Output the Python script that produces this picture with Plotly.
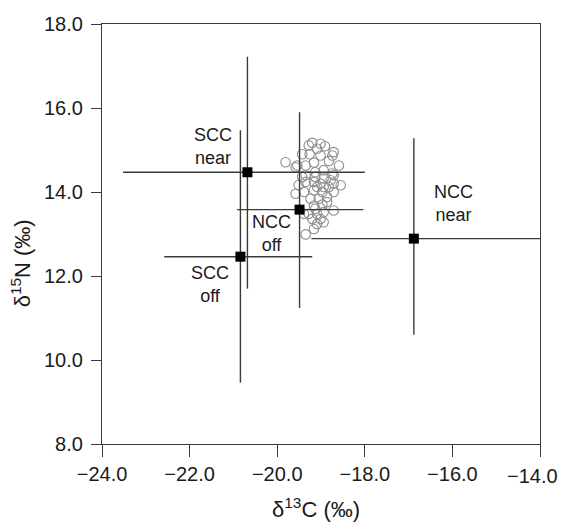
import plotly.graph_objects as go

# Individual samples (open circles)
ind_x = [-19.20, -18.91, -19.09, -18.71, -19.26, -19.43, -19.01, -18.74, -19.81, -19.54,
         -19.35, -19.16, -18.82, -18.59, -18.94, -19.13, -19.35, -18.74, -18.94, -19.16,
         -18.78, -19.01, -18.55, -18.82, -19.35, -19.58, -19.39, -19.16, -18.97, -18.71,
         -19.24, -19.05, -18.86, -19.16, -18.97, -18.86, -19.28, -19.09, -18.94, -19.20,
         -19.01, -19.16, -19.35, -19.58, -19.43, -19.51, -19.13, -18.71, -19.28, -19.01,
         -19.09, -18.94, -18.71, -19.13, -19.09, -18.94, -18.71, -19.39]
ind_y = [15.17, 15.09, 15.03, 14.95, 14.90, 14.90, 14.87, 14.87, 14.71, 14.63,
         14.63, 14.70, 14.74, 14.63, 14.52, 14.47, 14.40, 14.44, 14.32, 14.24,
         14.28, 14.20, 14.16, 14.12, 14.24, 13.96, 14.00, 14.04, 14.00, 14.00,
         13.84, 13.84, 13.88, 13.68, 13.70, 13.76, 13.48, 13.48, 13.52, 13.36,
         13.36, 13.12, 12.99, 14.59, 14.36, 14.16, 14.36, 14.40, 15.11, 15.15,
         14.12, 14.12, 14.20, 13.60, 13.24, 13.28, 13.56, 13.48]

# Group means with asymmetric error ranges
groups = ["SCC near", "NCC off", "SCC off", "NCC near"]
mean_x = [-20.68, -19.49, -20.84, -16.88]
mean_y = [14.47, 13.58, 12.46, 12.89]
err_x_minus = [2.84, 1.43, 1.74, 2.34]
err_x_plus = [2.68, 1.46, 1.64, 2.93]
err_y_plus = [2.75, 2.32, 3.01, 2.39]
err_y_minus = [2.77, 2.34, 3.00, 2.29]

# Group labels
labels = ["SCC<br>near", "NCC<br>off", "SCC<br>off", "NCC<br>near"]
label_x = [-21.46, -20.13, -21.53, -15.97]
label_y = [15.09, 13.01, 11.79, 13.73]

x_ticks = [-24, -22, -20, -18, -16, -14]
y_ticks = [8, 10, 12, 14, 16, 18]
x_ticktext = [f"\u2212{abs(v):.1f}" for v in x_ticks]
y_ticktext = [f"{v:.1f}" for v in y_ticks]

LINE = "#3a3a3a"
TXT = "#1a1a1a"
FONT = "Liberation Sans, Arial, Helvetica, sans-serif"

fig = go.Figure()
fig.add_trace(go.Scatter(
    x=ind_x, y=ind_y, mode="markers",
    marker=dict(symbol="circle-open", size=9.5, color="#8f8f8f", line=dict(width=1.1)),
    showlegend=False, hoverinfo="skip"))
fig.add_trace(go.Scatter(
    x=mean_x, y=mean_y, mode="markers",
    marker=dict(symbol="square", size=10, color="black"),
    error_x=dict(type="data", symmetric=False, array=err_x_plus, arrayminus=err_x_minus,
                 width=0, thickness=1.4, color=LINE),
    error_y=dict(type="data", symmetric=False, array=err_y_plus, arrayminus=err_y_minus,
                 width=0, thickness=1.4, color=LINE),
    text=groups, showlegend=False))

for lx, ly, t in zip(label_x, label_y, labels):
    fig.add_annotation(x=lx, y=ly, text=t, showarrow=False,
                       xanchor="center", yanchor="middle",
                       font=dict(family=FONT, size=18, color=TXT))

# Axis titles
fig.add_annotation(xref="paper", yref="paper", x=-0.185, y=0.43,
                   xanchor="center", yanchor="middle",
                   text="δ<sup>15</sup>N (‰)", textangle=-90, showarrow=False,
                   font=dict(family=FONT, size=22, color=TXT))
fig.add_annotation(xref="paper", yref="paper", x=0.489, y=-0.152,
                   xanchor="center", yanchor="middle",
                   text="δ<sup>13</sup>C (‰)", showarrow=False,
                   font=dict(family=FONT, size=22, color=TXT))

# Last x tick label sits at the page edge: draw it pulled inward as in the reference
fig.add_annotation(xref="x", yref="paper", x=x_ticks[-1], y=0,
                   xanchor="right", yanchor="middle", xshift=20, yshift=-32,
                   text=x_ticktext[-1], showarrow=False,
                   font=dict(family=FONT, size=20, color=TXT))
axis_ticktext = x_ticktext[:-1] + [""]

fig.update_layout(
    width=563, height=525, autosize=False,
    margin=dict(l=102, r=23, t=24, b=81),
    paper_bgcolor="white", plot_bgcolor="white",
    font=dict(family=FONT, size=20, color=TXT),
    xaxis=dict(range=[-24, -14], tickvals=x_ticks, ticktext=axis_ticktext,
               showgrid=False, zeroline=False, showline=True, linecolor=LINE, linewidth=1.3,
               mirror=True, ticks="outside", ticklen=12, tickcolor=LINE, tickwidth=1.3),
    yaxis=dict(range=[8, 18], tickvals=y_ticks, ticktext=y_ticktext,
               showgrid=False, zeroline=False, showline=True, linecolor=LINE, linewidth=1.3,
               mirror=True, ticks="outside", ticklen=10, tickcolor=LINE, tickwidth=1.3,
               ticklabelstandoff=4),
)

fig.write_html("out.html", config={"responsive": False})
